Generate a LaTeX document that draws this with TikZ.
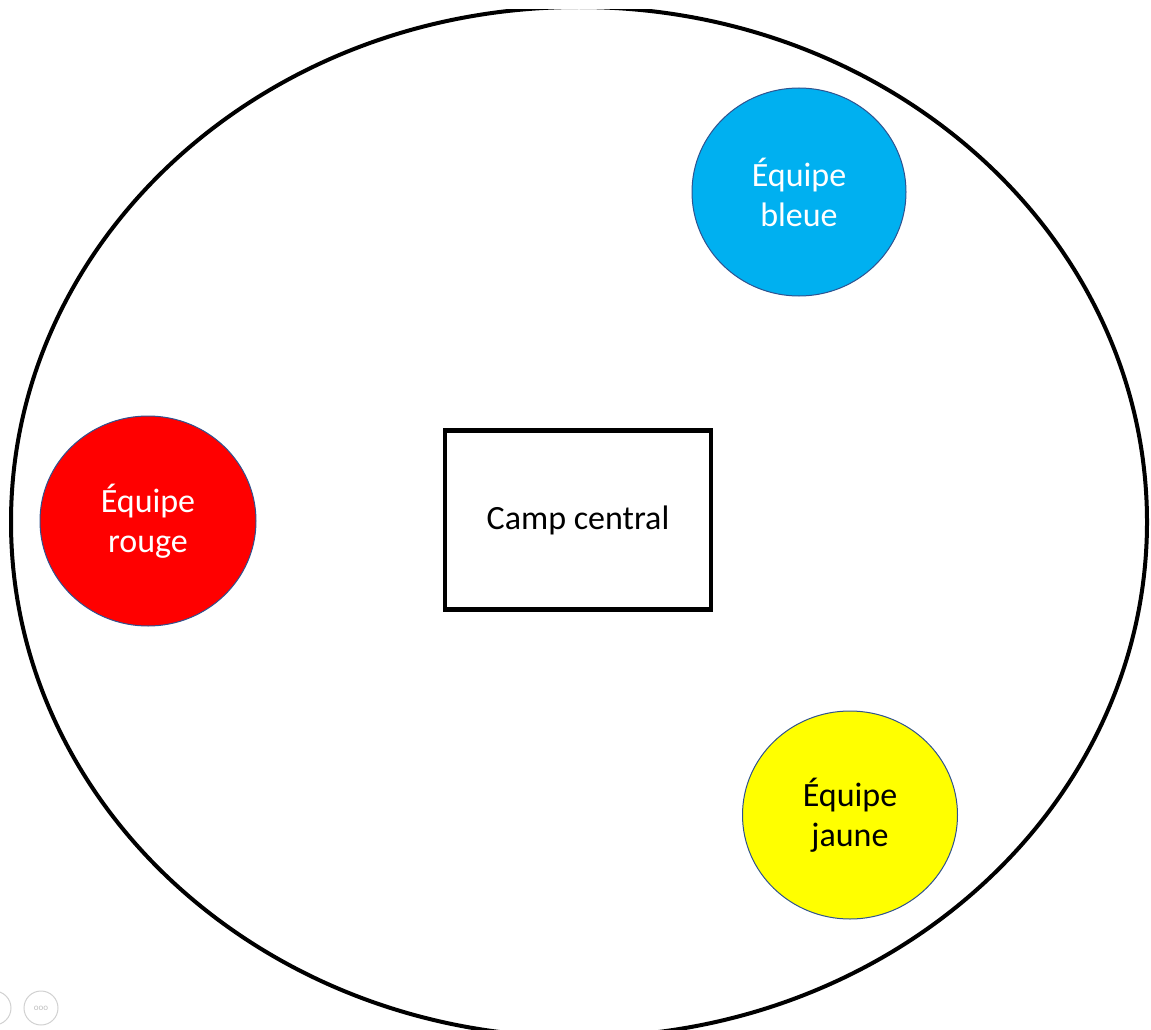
\documentclass[tikz,border=0pt]{standalone}
\usepackage{fontspec}
\setmainfont{Carlito}
\usetikzlibrary{shapes.geometric}
\definecolor{bleu}{HTML}{00B0F0}
\definecolor{rouge}{HTML}{FF0000}
\definecolor{jaune}{HTML}{FFFF00}
\definecolor{bord}{HTML}{2F528F}
\begin{document}
\begin{tikzpicture}[x=1pt,y=-1pt,
  team/.style={ellipse,draw=bord,line width=1pt,inner sep=0pt,
    font=\fontsize{34}{40}\selectfont,align=center},
  camp/.style={draw=black,line width=4.5pt,minimum width=266pt,minimum height=179pt,
    inner sep=0pt,font=\fontsize{34}{40}\selectfont},
  ui/.style={draw=black!18,line width=1pt}]
\useasboundingbox (0,0) rectangle (1151,1030);
\begin{scope}
\clip (0,10) rectangle (1151,1030);
\node[ellipse,draw=black,line width=4pt,minimum width=1136pt,minimum height=1030pt,inner sep=0pt] (terrain) at (579,522) {};
\end{scope}
\node[team,fill=bleu,text=white,minimum width=214pt,minimum height=208pt] (bleue) at (799,192) {Équipe\\bleue};
\node[team,fill=rouge,text=white,minimum width=216pt,minimum height=210pt] (rouge) at (148,521) {Équipe\\rouge};
\node[team,fill=jaune,text=black,minimum width=215pt,minimum height=208pt] (jaune) at (850,815) {Équipe\\jaune};
\node[camp] (central) at (578,520) {\raisebox{-3pt}{Camp central}};
\node[ui,circle,minimum size=34pt,inner sep=0pt,text=black!25,font=\fontsize{9}{9}\selectfont] (ui2) at (41,1008) {ooo};
\node[ui,circle,minimum size=34pt,inner sep=0pt] (ui1) at (-6,1008) {};
\end{tikzpicture}
\end{document}
